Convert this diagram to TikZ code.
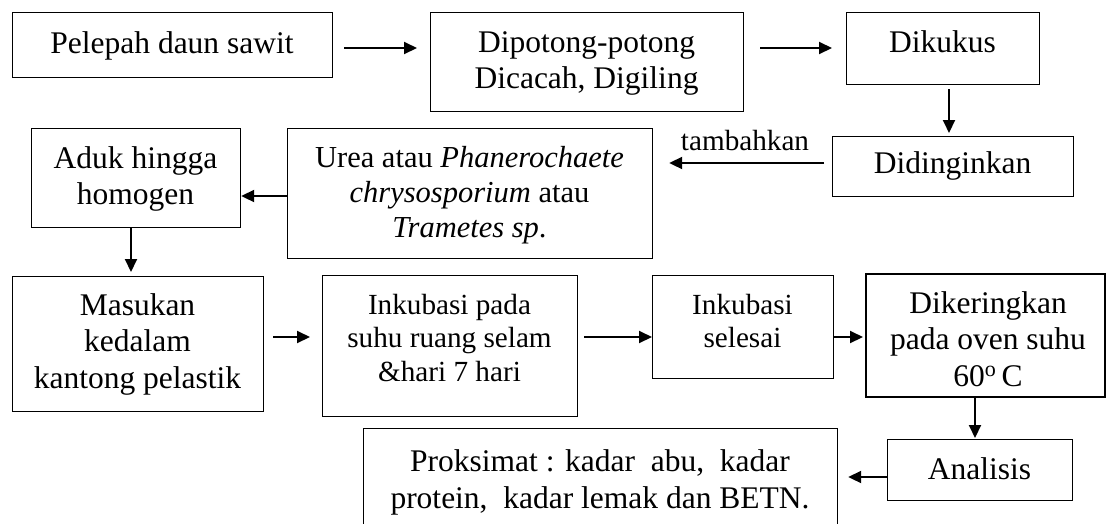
\documentclass[tikz,border=0pt]{standalone}
\usepackage{fontspec}
\setmainfont{Liberation Serif}
\usetikzlibrary{arrows.meta}
\newcommand\mkbox[6][]{\node[bx,#1,anchor=north west,minimum width={#5pt-#3pt},minimum height={#6pt-#4pt}] (#2) at (#3,#4) {};}
\begin{document}
\begin{tikzpicture}[x=1pt,y=-1pt,
  bx/.style={draw, line width=1.2pt, inner sep=0pt},
  thick box/.style={line width=2.2pt},
  arr/.style={line width=2pt, -{Triangle[length=13pt,width=12pt]}},
  big/.style={font=\fontsize{31.5}{36.5}\selectfont, align=center, anchor=base, inner sep=0pt},
  mid/.style={font=\fontsize{30.5}{35}\selectfont, align=center, anchor=base, inner sep=0pt},
  small/.style={font=\fontsize{29.2}{33.5}\selectfont, align=center, anchor=base, inner sep=0pt}]
\useasboundingbox (0,0) rectangle (1106,523);
\clip (0,0) rectangle (1106,523);
% boxes
\mkbox{pel}{12}{12}{332}{77}
\mkbox{dip}{430}{12}{743}{111}
\mkbox{dik}{846}{12}{1039}{84}
\mkbox{din}{832}{136}{1073}{196}
\mkbox{urea}{287}{128}{652}{258}
\mkbox{aduk}{31}{128}{240}{227}
\mkbox{mas}{12}{276}{263}{411}
\mkbox{ink}{322}{275}{577}{416}
\mkbox{sel}{652}{275}{833}{378}
\mkbox[thick box]{ker}{865}{273}{1104}{396}
\mkbox{ana}{887}{439}{1072}{500}
\mkbox{prok}{363}{428}{837}{545}
% texts (anchor = baseline of the last line)
\node[big] (tpel) at (172,53) {Pelepah daun sawit};
\node[big] (tdip) at (586.5,88.5) {Dipotong-potong\\Dicacah, Digiling};
\node[big] (tdik) at (942.5,52) {Dikukus};
\node[big] (tdin) at (952.5,173) {Didinginkan};
\node[small] (ttam) at (745,150) {tambahkan};
\node[mid] (turea) at (469.5,237) {Urea atau \textit{Phanerochaete}\\\textit{chrysosporium} atau\\\textit{Trametes sp}.};
\node[big] (taduk) at (135.5,204.5) {Aduk hingga\\homogen};
\node[big] (tmas) at (137.5,388) {Masukan\\kedalam\\kantong pelastik};
\node[small] (tink) at (449.5,381) {Inkubasi pada\\suhu ruang selam\\\&hari 7 hari};
\node[small] (tsel) at (742.5,347.5) {Inkubasi\\selesai};
\node[big] (tker) at (988,386) {Dikeringkan\\pada oven suhu\\60\textsuperscript{o}\,C};
\node[big] (tana) at (979.5,479) {Analisis};
\node[big] (tprok) at (600,508) {Proksimat : kadar\ \ abu,\ \ kadar\\protein,\ \ kadar lemak dan BETN.};
% connectors
\coordinate (r1) at (0,48);
\coordinate (r4) at (0,163);
\coordinate (r5) at (0,196);
\coordinate (r7) at (0,337);
\coordinate (r11) at (0,477);
\coordinate (c3) at (949,0);
\coordinate (c6) at (131,0);
\coordinate (c10) at (975,0);
\draw[arr, shorten <=11pt, shorten >=13pt] (pel.east |- r1) -- (dip.west |- r1);
\draw[arr, shorten <=16pt, shorten >=14pt] (dip.east |- r1) -- (dik.west |- r1);
\draw[arr, shorten <=4pt, shorten >=3pt] (dik.south -| c3) -- (din.north -| c3);
\draw[arr, shorten <=8pt, shorten >=16pt] (din.west |- r4) -- (urea.east |- r4);
\draw[arr] (urea.west |- r5) -- (aduk.east |- r5);
\draw[arr, shorten >=4pt] (aduk.south -| c6) -- (mas.north -| c6);
\draw[arr, shorten <=9pt, shorten >=12pt] (mas.east |- r7) -- (ink.west |- r7);
\draw[arr, shorten <=6pt] (ink.east |- r7) -- (sel.west |- r7);
\draw[arr, shorten >=2pt] (sel.east |- r7) -- (ker.west |- r7);
\draw[arr, shorten >=1pt] (ker.south -| c10) -- (ana.north -| c10);
\draw[arr, shorten >=10pt] (ana.west |- r11) -- (prok.east |- r11);
\end{tikzpicture}
\end{document}
